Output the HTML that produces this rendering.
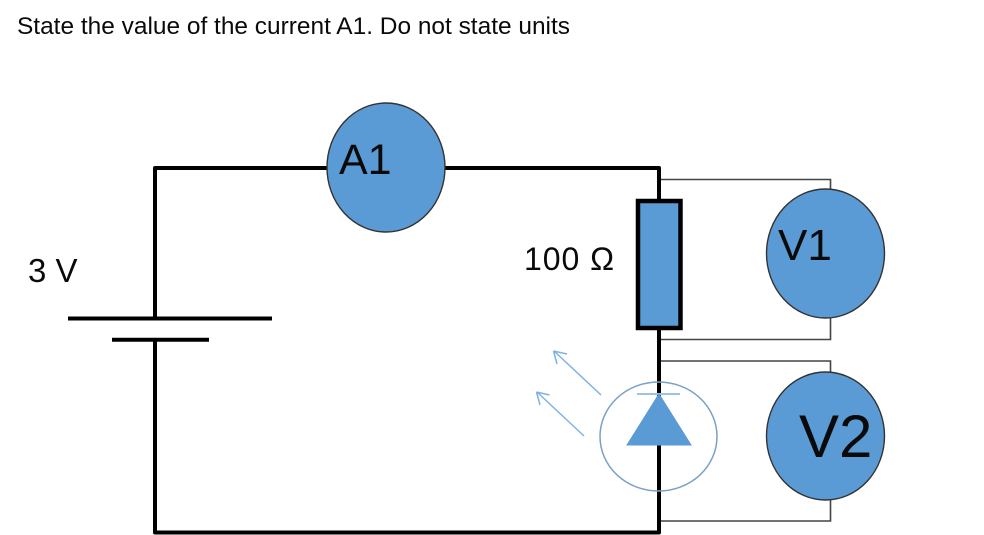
<!DOCTYPE html>
<html>
<head>
<meta charset="utf-8">
<style>
html,body{margin:0;padding:0;background:#fff;width:984px;height:535px;overflow:hidden}
svg{display:block;filter:blur(0.35px)}
text{font-family:"Liberation Sans",sans-serif;fill:#0a0a0a}
</style>
</head>
<body>
<svg width="984" height="535" viewBox="0 0 984 535" xmlns="http://www.w3.org/2000/svg">
<rect width="984" height="535" fill="#fff"/>
<text x="17" y="34" font-size="24" textLength="553" lengthAdjust="spacingAndGlyphs">State the value of the current A1. Do not state units</text>

<!-- thin voltmeter wires -->
<g fill="none" stroke="#444" stroke-width="1.6">
<path d="M659 179.500H830.500V190"/>
<path d="M830.500 317V339.500H659"/>
<path d="M659 361H830.500V373"/>
<path d="M830.500 499V521H659"/>
</g>

<!-- thick circuit wires -->
<g fill="none" stroke="#000" stroke-linejoin="round">
<path d="M155 318.500V168H659V532.500H155V340" stroke-width="4"/>
<path d="M68 318.500H272" stroke-width="4"/>
<path d="M112 339.700H209" stroke-width="4"/>
</g>

<!-- resistor -->
<rect x="638" y="201" width="42.500" height="127" fill="#5b9bd5" stroke="#000" stroke-width="4.500"/>

<!-- meters -->
<g fill="#5b9bd5" stroke="#333" stroke-width="1.400">
<ellipse cx="386" cy="167.500" rx="59" ry="64.500"/>
<ellipse cx="825.500" cy="253.500" rx="59" ry="64.500"/>
<ellipse cx="825.500" cy="436" rx="59" ry="64"/>
</g>

<!-- photodiode -->
<ellipse cx="658.500" cy="436.500" rx="58.500" ry="54.500" fill="none" stroke="#7ba2c6" stroke-width="1.500"/>
<path d="M637 394H680" stroke="#9cc3e6" stroke-width="2" fill="none"/>
<path d="M659 394L691 445H627Z" fill="#5b9bd5" stroke="#5b9bd5" stroke-width="1"/>

<!-- light arrows -->
<g fill="none" stroke="#7fb3e3" stroke-width="1.500">
<path d="M601 395L554 351M553.500 351L567 354M553.500 351L557 364"/>
<path d="M584 436L537 392M536.500 392L549.500 395M536.500 392L540 405"/>
</g>

<!-- labels -->
<text x="339" y="174" font-size="43">A1</text>
<text x="778" y="260" font-size="44">V1</text>
<text x="799" y="457" font-size="60">V2</text>
<text x="28" y="282" font-size="33">3 V</text>
<text x="524" y="270" font-size="32" textLength="90" lengthAdjust="spacing">100 Ω</text>
</svg>
</body>
</html>
